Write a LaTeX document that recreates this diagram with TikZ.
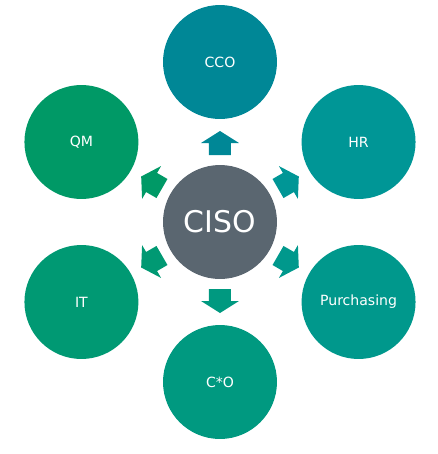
\documentclass[tikz,border=0pt]{standalone}
\usepackage{fontspec}
\setmainfont{DejaVu Sans}
\usetikzlibrary{positioning}
\usepackage{xcolor}
\definecolor{cisogray}{RGB}{90,102,112}
\definecolor{ccoteal}{RGB}{0,135,150}
\definecolor{hrteal}{RGB}{0,150,150}
\definecolor{purchteal}{RGB}{0,152,140}
\definecolor{cxoteal}{RGB}{0,153,128}
\definecolor{itgreen}{RGB}{0,153,115}
\definecolor{qmgreen}{RGB}{0,153,102}

\begin{document}
\begin{tikzpicture}[
	x=0.02cm, y=0.02cm,
	rolecircle/.style={circle, minimum size=2.28cm, inner sep=0pt, text=white, font=\fontsize{8}{10}\selectfont},
	centercircle/.style={circle, minimum size=2.28cm, inner sep=0pt, fill=cisogray, text=white, font=\fontsize{17}{20}\selectfont}
	]
	\useasboundingbox (-220,-232) rectangle (218,222);
	\node[centercircle] (ciso) at (0,0) {CISO};
	\node[rolecircle, fill=ccoteal] (cco) at (90:160) {CCO};
	\node[rolecircle, fill=hrteal] (hr) at (30:160) {HR};
	\node[rolecircle, fill=purchteal] (purch) at (-30:160) {Purchasing};
	\node[rolecircle, fill=cxoteal] (cxo) at (-90:160) {C*O};
	\node[rolecircle, fill=itgreen] (it) at (-150:160) {IT};
	\node[rolecircle, fill=qmgreen] (qm) at (150:160) {QM};
	% block arrows from the center out
	\foreach \ang/\col in {90/ccoteal, 30/hrteal, -30/purchteal, -90/cxoteal, -150/itgreen, 150/qmgreen}
		\fill[\col, rotate=\ang] (67,-11) -- (79,-11) -- (79,-19) -- (91,0) -- (79,19) -- (79,11) -- (67,11) -- cycle;
\end{tikzpicture}
\end{document}
